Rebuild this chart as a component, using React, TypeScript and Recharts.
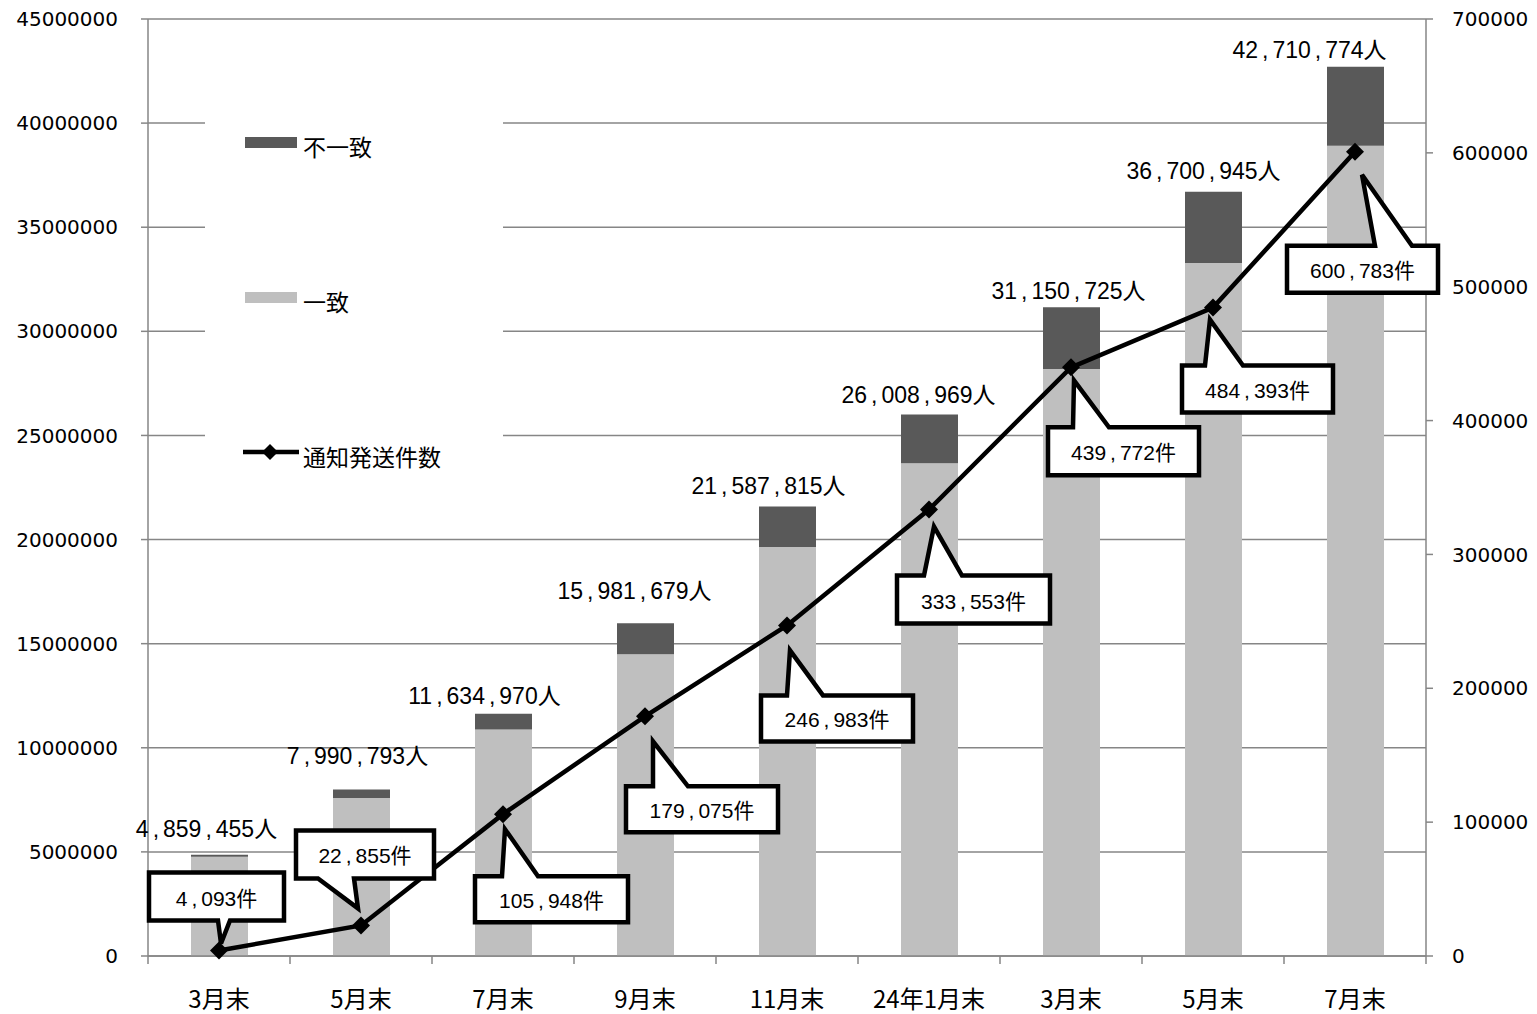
import React from 'react';
import {
  ComposedChart,
  Bar,
  Line,
  XAxis,
  YAxis,
  CartesianGrid,
  Legend,
  LabelList,
} from 'recharts';

const categories = ['3月末', '5月末', '7月末', '9月末', '11月末', '24年1月末', '3月末', '5月末', '7月末'];
const matched = [4770000, 7590000, 10880000, 14490000, 19640000, 23670000, 28190000, 33280000, 38910000];
const mismatched = [89455, 400793, 754970, 1491679, 1947815, 2338969, 2960725, 3420945, 3800774];
const totals = [4859455, 7990793, 11634970, 15981679, 21587815, 26008969, 31150725, 36700945, 42710774];
const notices = [4093, 22855, 105948, 179075, 246983, 333553, 439772, 484393, 600783];

const leftTicks = [0, 5000000, 10000000, 15000000, 20000000, 25000000, 30000000, 35000000, 40000000, 45000000];
const rightTicks = [0, 100000, 200000, 300000, 400000, 500000, 600000, 700000];

const data = categories.map((name, i) => ({
  name,
  matched: matched[i],
  mismatched: mismatched[i],
  total: totals[i],
  notices: notices[i],
}));

const LIGHT = '#BFBFBF';
const DARK = '#595959';
const AXIS = '#868686';
const LABEL_FONT = '"Liberation Sans", "Noto Sans CJK JP", sans-serif';
const CJK_FONT = '"Noto Sans CJK JP", sans-serif';
const NUM_FONT = '"DejaVu Sans", sans-serif';

// hand-placed label positions (relative to the bar top / line point)
const totalOffsets = [
  [-13, -26], [-4, -34], [-19, -18], [-11, -32], [-19, -20],
  [-11, -19], [-3, -16], [-10, -21], [-46, -17],
];

const callouts = [
  { l: -70, r: 65, t: -78, b: -30, side: 'bottom', b1: -1, b2: 11, tx: 2, ty: -7 },
  { l: -65, r: 73, t: -95, b: -47, side: 'bottom', b1: -43, b2: -7, tx: -3, ty: -17 },
  { l: -28, r: 125, t: 62, b: 108, side: 'top', b1: -1, b2: 35, tx: 2, ty: 15 },
  { l: -19, r: 133, t: 70, b: 116, side: 'top', b1: 8, b2: 43, tx: 8, ty: 25 },
  { l: -26, r: 126, t: 70, b: 116, side: 'top', b1: 0, b2: 36, tx: 3, ty: 25 },
  { l: -32, r: 121, t: 66, b: 114, side: 'top', b1: -5, b2: 33, tx: 5, ty: 17 },
  { l: -23, r: 128, t: 60, b: 108, side: 'top', b1: 2, b2: 38, tx: 3, ty: 13 },
  { l: -31, r: 120, t: 58, b: 105, side: 'top', b1: -8, b2: 30, tx: -3, ty: 12 },
  { l: -68, r: 83, t: 94, b: 141, side: 'top', b1: 20, b2: 57, tx: 7, ty: 23 },
];

// the source spreads the digits around its commas
function spaced(str: string, gap: number) {
  const parts = str.split(',');
  const out: any[] = [];
  parts.forEach((p, i) => {
    if (i > 0) {
      out.push(<tspan key={'c' + i} dx={gap}>,</tspan>);
      out.push(<tspan key={'p' + i} dx={gap}>{p}</tspan>);
    } else {
      out.push(<tspan key={'p' + i}>{p}</tspan>);
    }
  });
  return out;
}

// category label plus tick marks on the category boundaries
const renderCatTick = (props: any) => {
  const { x, y, payload, index } = props;
  const half = payload?.offset || 71;
  const last = index === categories.length - 1;
  return (
    <g key={'xt' + index}>
      <line x1={x - half} y1={y} x2={x - half} y2={y + 8} stroke={AXIS} strokeWidth={1.5} />
      {last && <line x1={x + half} y1={y} x2={x + half} y2={y + 8} stroke={AXIS} strokeWidth={1.5} />}
      <text
        x={x}
        y={y + 35}
        dy="0.71em"
        textAnchor="middle"
        fontFamily={CJK_FONT}
        fontSize={24}
        fill="#000"
      >
        {payload.value}
      </text>
    </g>
  );
};

const renderTotal = (props: any) => {
  const vb = props.viewBox ?? props;
  const i = props.index ?? totals.indexOf(props.value);
  const [dx, dy] = totalOffsets[i] || [0, -20];
  const cx = vb.x + vb.width / 2 + dx;
  const cy = vb.y + dy;
  return (
    <text
      key={'tot' + i}
      x={cx}
      y={cy}
      textAnchor="middle"
      dominantBaseline="central"
      fontFamily={LABEL_FONT}
      fontSize={23}
      fill="#000"
    >
      {spaced(Number(props.value).toLocaleString('en-US') + '人', 4)}
    </text>
  );
};

const renderCallout = (props: any) => {
  const vb = props.viewBox ?? props;
  const i = props.index ?? notices.indexOf(props.value);
  const c = callouts[i];
  if (!c) return null;
  const x = vb.x;
  const y = vb.y;
  const P = (dx: number, dy: number) => `${x + dx},${y + dy}`;
  const d =
    c.side === 'top'
      ? `M${P(c.l, c.t)} L${P(c.b1, c.t)} L${P(c.tx, c.ty)} L${P(c.b2, c.t)} L${P(c.r, c.t)} L${P(c.r, c.b)} L${P(c.l, c.b)} Z`
      : `M${P(c.l, c.t)} L${P(c.r, c.t)} L${P(c.r, c.b)} L${P(c.b2, c.b)} L${P(c.tx, c.ty)} L${P(c.b1, c.b)} L${P(c.l, c.b)} Z`;
  return (
    <g key={'call' + i}>
      <path d={d} fill="#fff" stroke="#000" strokeWidth={4.5} strokeLinejoin="miter" />
      <text
        x={x + (c.l + c.r) / 2}
        y={y + (c.t + c.b) / 2 + 1}
        textAnchor="middle"
        dominantBaseline="central"
        fontFamily={LABEL_FONT}
        fontSize={21}
        fill="#000"
      >
        {spaced(Number(props.value).toLocaleString('en-US') + '件', 4)}
      </text>
    </g>
  );
};

const renderDiamond = (props: any) => {
  const { cx, cy, index } = props;
  const s = 9;
  return (
    <path
      key={'dot' + index}
      d={`M${cx},${cy - s} L${cx + s},${cy} L${cx},${cy + s} L${cx - s},${cy} Z`}
      fill="#000"
    />
  );
};

const renderLegend = () => (
  <div
    style={{
      position: 'relative',
      width: 298,
      height: 385,
      background: '#fff',
      fontFamily: CJK_FONT,
      fontSize: 23,
      color: '#000',
    }}
  >
    <div style={{ position: 'absolute', left: 40, top: 37, width: 52, height: 11, background: DARK }} />
    <span style={{ position: 'absolute', left: 98, top: 30, lineHeight: '32px' }}>不一致</span>
    <div style={{ position: 'absolute', left: 40, top: 192, width: 52, height: 11, background: LIGHT }} />
    <span style={{ position: 'absolute', left: 98, top: 185, lineHeight: '32px' }}>一致</span>
    <svg style={{ position: 'absolute', left: 38, top: 344 }} width={56} height={16}>
      <line x1={0} y1={8} x2={56} y2={8} stroke="#000" strokeWidth={4.5} />
      <path d="M27,0 L35,8 L27,16 L19,8 Z" fill="#000" />
    </svg>
    <span style={{ position: 'absolute', left: 98, top: 340, lineHeight: '32px' }}>通知発送件数</span>
  </div>
);

export default function App() {
  return (
    <div style={{ position: 'absolute', left: 0, top: 0, width: 1537, height: 1014, background: '#fff' }}>
      <ComposedChart
        width={1537}
        height={1014}
        data={data}
        margin={{ top: 19, right: 0, bottom: 0, left: 0 }}
      >
        <CartesianGrid vertical={false} yAxisId="left" stroke={AXIS} strokeWidth={1.5} />
        <XAxis
          dataKey="name"
          height={58}
          interval={0}
          tickLine={false}
          tickSize={0}
          tickMargin={0}
          axisLine={{ stroke: AXIS, strokeWidth: 1.5 }}
          tick={renderCatTick}
        />
        <YAxis
          yAxisId="left"
          domain={[0, 45000000]}
          ticks={leftTicks}
          interval={0}
          width={148}
          tickSize={7}
          tickMargin={23}
          tickLine={{ stroke: AXIS, strokeWidth: 1.5 }}
          axisLine={{ stroke: AXIS, strokeWidth: 1.5 }}
          tick={{ fontFamily: NUM_FONT, fontSize: 20, fill: '#000' }}
        />
        <YAxis
          yAxisId="right"
          orientation="right"
          domain={[0, 700000]}
          ticks={rightTicks}
          interval={0}
          width={111}
          tickSize={7}
          tickMargin={19}
          tickLine={{ stroke: AXIS, strokeWidth: 1.5 }}
          axisLine={{ stroke: AXIS, strokeWidth: 1.5 }}
          tick={{ fontFamily: NUM_FONT, fontSize: 20, fill: '#000' }}
        />
        <Legend
          layout="horizontal"
          verticalAlign="middle"
          align="center"
          wrapperStyle={{ left: 205, top: 100, width: 298, height: 385 }}
          content={renderLegend}
        />
        <Bar
          dataKey="matched"
          name="一致"
          stackId="s"
          yAxisId="left"
          fill={LIGHT}
          barSize={57}
          isAnimationActive={false}
        />
        <Bar
          dataKey="mismatched"
          name="不一致"
          stackId="s"
          yAxisId="left"
          fill={DARK}
          barSize={57}
          isAnimationActive={false}
        >
          <LabelList dataKey="total" content={renderTotal} />
        </Bar>
        <Line
          dataKey="notices"
          name="通知発送件数"
          type="linear"
          yAxisId="right"
          stroke="#000"
          strokeWidth={4.5}
          dot={renderDiamond}
          activeDot={false}
          isAnimationActive={false}
        >
          <LabelList dataKey="notices" content={renderCallout} />
        </Line>
      </ComposedChart>
    </div>
  );
}
